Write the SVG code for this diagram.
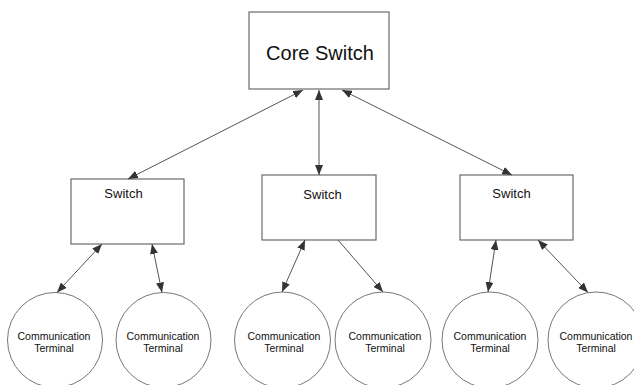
<svg xmlns="http://www.w3.org/2000/svg" width="634" height="385" viewBox="0 0 634 385">
<defs>
<style>
.box{fill:#fff;stroke:#6b6b6b;stroke-width:1.2}
.term{fill:#fff;stroke:#777;stroke-width:1}
.edge{fill:none;stroke:#555;stroke-width:1}
.t{font-family:"Liberation Sans",Arial,sans-serif;fill:#111;text-anchor:middle}
.core{font-size:20px}
.sw{font-size:13px}
.ct{font-size:10.5px}
</style>
<marker id="ah" viewBox="0 0 10 8" markerWidth="10" markerHeight="8" refX="10" refY="4" orient="auto-start-reverse" markerUnits="userSpaceOnUse">
<path d="M0,0 L10,4 L0,8 z" fill="#333"/>
</marker>
</defs>
<rect width="634" height="385" fill="#fff"/>
<g id="core">
<rect class="box" x="249" y="12" width="140" height="77"/>
<text class="t core" x="320" y="60">Core Switch</text>
</g>
<g id="switch1">
<rect class="box" x="71" y="179" width="113" height="65"/>
<text class="t sw" x="123.5" y="198">Switch</text>
</g>
<g id="switch2">
<rect class="box" x="262" y="175" width="114" height="65"/>
<text class="t sw" x="322.5" y="199">Switch</text>
</g>
<g id="switch3">
<rect class="box" x="460" y="175" width="113" height="65"/>
<text class="t sw" x="511.5" y="198">Switch</text>
</g>
<g id="term1">
<circle class="term" cx="55" cy="340" r="47.5"/>
<text class="t ct" x="54" y="340">Communication</text>
<text class="t ct" x="54" y="352">Terminal</text>
</g>
<g id="term2">
<circle class="term" cx="163.5" cy="340" r="47.5"/>
<text class="t ct" x="163" y="340">Communication</text>
<text class="t ct" x="163" y="352">Terminal</text>
</g>
<g id="term3">
<circle class="term" cx="282.5" cy="340" r="48"/>
<text class="t ct" x="284" y="340">Communication</text>
<text class="t ct" x="284" y="352">Terminal</text>
</g>
<g id="term4">
<circle class="term" cx="383" cy="340" r="48"/>
<text class="t ct" x="385" y="340">Communication</text>
<text class="t ct" x="385" y="352">Terminal</text>
</g>
<g id="term5">
<circle class="term" cx="490" cy="340" r="48"/>
<text class="t ct" x="490" y="340">Communication</text>
<text class="t ct" x="490" y="352">Terminal</text>
</g>
<g id="term6">
<circle class="term" cx="596" cy="340" r="48"/>
<text class="t ct" x="596" y="340">Communication</text>
<text class="t ct" x="596" y="352">Terminal</text>
</g>
<g id="connectors">
<line class="edge" x1="303" y1="90" x2="128" y2="179" marker-start="url(#ah)" marker-end="url(#ah)"/>
<line class="edge" x1="319" y1="90" x2="319" y2="175" marker-start="url(#ah)" marker-end="url(#ah)"/>
<line class="edge" x1="342" y1="90" x2="512" y2="175" marker-start="url(#ah)" marker-end="url(#ah)"/>
<line class="edge" x1="102" y1="244" x2="57" y2="292.5" marker-start="url(#ah)" marker-end="url(#ah)"/>
<line class="edge" x1="152" y1="244" x2="162" y2="292.5" marker-start="url(#ah)" marker-end="url(#ah)"/>
<line class="edge" x1="305" y1="240" x2="282" y2="292" marker-start="url(#ah)" marker-end="url(#ah)"/>
<line class="edge" x1="338" y1="240" x2="383" y2="292" marker-end="url(#ah)"/>
<line class="edge" x1="496" y1="240" x2="488" y2="292" marker-start="url(#ah)" marker-end="url(#ah)"/>
<line class="edge" x1="538" y1="240" x2="588" y2="292.5" marker-start="url(#ah)" marker-end="url(#ah)"/>
</g>
</svg>
